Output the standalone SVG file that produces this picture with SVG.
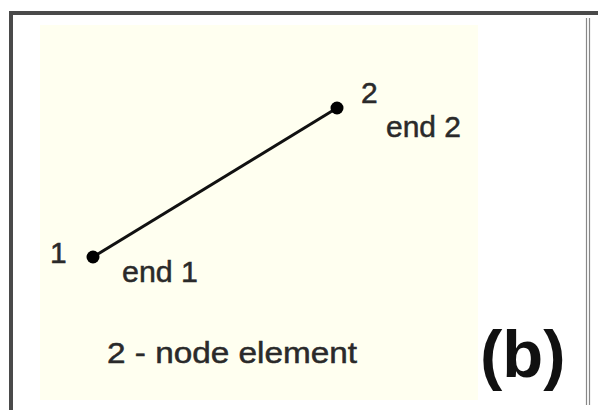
<svg xmlns="http://www.w3.org/2000/svg" width="598" height="410" viewBox="0 0 598 410">
<style>
.t{font-family:"Liberation Sans",Arial,sans-serif;font-size:30px;fill:#2a2a2a;stroke:#2a2a2a;stroke-width:0.5}
.b{font-family:"Liberation Sans",Arial,sans-serif;font-size:67px;font-weight:bold;fill:#111}
</style>
<rect x="0" y="0" width="598" height="410" fill="#fff"/>
<rect x="40" y="25" width="438" height="375" fill="#fffff0"/>
<path d="M11 410 V13 H598" fill="none" stroke="#4a4a4a" stroke-width="4"/>
<line x1="586.5" y1="18" x2="586.5" y2="405" stroke="#888" stroke-width="1.2"/>
<line x1="589.5" y1="18" x2="589.5" y2="405" stroke="#888" stroke-width="1.2"/>
<g id="connectors">
<line x1="93" y1="257" x2="337" y2="108" stroke="#111" stroke-width="3"/>
</g>
<g id="node1">
<circle cx="93" cy="257" r="6.5" fill="#000"/>
<text class="t" x="50" y="263">1</text>
<text class="t" x="122" y="282" textLength="76" lengthAdjust="spacingAndGlyphs">end 1</text>
</g>
<g id="node2">
<circle cx="337" cy="108" r="6.5" fill="#000"/>
<text class="t" x="361" y="103">2</text>
<text class="t" x="386" y="137" textLength="75" lengthAdjust="spacingAndGlyphs">end 2</text>
</g>
<g id="caption">
<text class="t" x="107" y="363" textLength="250" lengthAdjust="spacingAndGlyphs">2 - node element</text>
</g>
<text class="b" x="480" y="377">(b)</text>
</svg>
